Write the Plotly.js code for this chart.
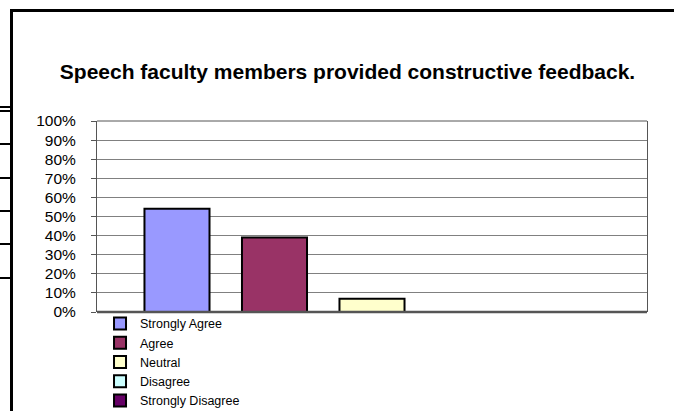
<!DOCTYPE html>
<html>
<head>
<meta charset="utf-8">
<script src="https://cdn.plot.ly/plotly-3.0.1.min.js"></script>
<style>
  html, body { margin: 0; padding: 0; background: #fff; }
  #wrap { position: relative; width: 674px; height: 411px; overflow: hidden; }
  #chart { position: absolute; left: 0; top: 0; width: 674px; height: 411px; }
  .frame-top { position: absolute; left: 10px; top: 9px; width: 664px; height: 2.5px; background: #000; }
  .frame-left { position: absolute; left: 10px; top: 9px; width: 2.5px; height: 402px; background: #000; }
  .seg { position: absolute; left: 0; width: 10px; height: 2px; background: #000; }
</style>
</head>
<body>
<div id="wrap">
  <div id="chart"></div>
  <div class="frame-top"></div>
  <div class="frame-left"></div>
  <div class="seg" style="top:106px"></div>
  <div class="seg" style="top:110px"></div>
  <div class="seg" style="top:143px"></div>
  <div class="seg" style="top:177px"></div>
  <div class="seg" style="top:210px"></div>
  <div class="seg" style="top:243px"></div>
  <div class="seg" style="top:277px"></div>
</div>
<script>
const chartTitle = "Speech faculty members provided constructive feedback.";
const category = ["Q"];
const seriesNames = ["Strongly Agree", "Agree", "Neutral", "Disagree", "Strongly Disagree"];
const seriesValues = [0.54, 0.39, 0.07, 0.0, 0.0];
const seriesColors = ["#9999FF", "#993366", "#FFFFCC", "#CCFFFF", "#660066"];
const yTickVals = [0, 0.1, 0.2, 0.3, 0.4, 0.5, 0.6, 0.7, 0.8, 0.9, 1.0];
const yTickText = ["0%", "10%", "20%", "30%", "40%", "50%", "60%", "70%", "80%", "90%", "100%"];

const FONT = "Arial, 'Liberation Sans', sans-serif";

const traces = seriesNames.map((name, i) => ({
  type: "bar",
  name: name,
  x: category,
  y: [seriesValues[i]],
  marker: {
    color: seriesColors[i],
    line: { color: "#000", width: 2 }
  },
  hoverinfo: "skip"
}));

const layout = {
  width: 674,
  height: 411,
  margin: { l: 97, r: 27, t: 121, b: 99, autoexpand: false },
  paper_bgcolor: "rgba(0,0,0,0)",
  plot_bgcolor: "#fff",
  font: { family: FONT, color: "#000" },
  title: {
    text: "<b>" + chartTitle + "</b>",
    font: { family: FONT, size: 21, color: "#000" },
    xref: "container", x: 0.5156, xanchor: "center",
    yref: "container", y: 0.825, yanchor: "middle"
  },
  barmode: "group",
  bargap: 0.1136,
  bargroupgap: 0.333,
  xaxis: {
    type: "category",
    showticklabels: false,
    ticks: "",
    showgrid: false,
    showline: false,
    zeroline: false,
    fixedrange: true
  },
  yaxis: {
    range: [0, 1],
    tickvals: yTickVals,
    ticktext: yTickText,
    ticks: "outside",
    ticklen: 5,
    tickcolor: "#555",
    ticklabelstandoff: 12,
    tickfont: { family: FONT, size: 15.5, color: "#000" },
    showgrid: true,
    gridcolor: "#808080",
    gridwidth: 1,
    showline: true,
    linecolor: "#555",
    linewidth: 1,
    mirror: true,
    zeroline: false,
    fixedrange: true
  },
  shapes: [
    { type: "line", xref: "paper", yref: "paper", x0: 0, x1: 1, y0: 1, y1: 1,
      layer: "above", line: { color: "#555", width: 1 } },
    { type: "line", xref: "paper", yref: "paper", x0: 0, x1: 1, y0: 0, y1: 0,
      layer: "above", line: { color: "#555", width: 2.5 } }
  ],
  showlegend: true,
  legend: {
    xref: "container", x: 0.1484, xanchor: "left",
    yref: "container", y: 0.2482, yanchor: "top",
    bgcolor: "rgba(0,0,0,0)",
    borderwidth: 0,
    font: { family: FONT, size: 12.5, color: "#000" },
    traceorder: "normal",
    orientation: "v"
  }
};

Plotly.newPlot("chart", traces, layout, { displayModeBar: false, staticPlot: true });
</script>
</body>
</html>
